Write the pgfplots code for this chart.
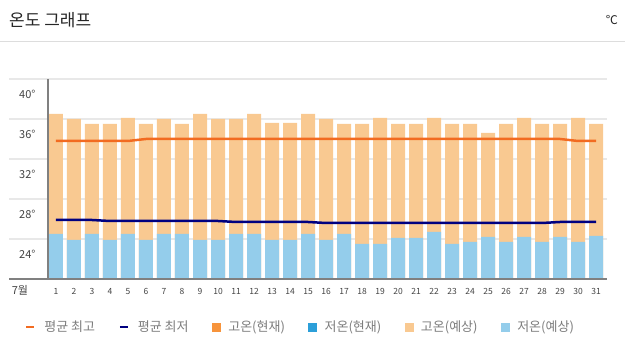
\documentclass[border=0pt]{standalone}
\usepackage{fontspec}
\setmainfont{Noto Sans CJK KR}
\usepackage{pgfplots}
\pgfplotsset{compat=1.18}
\usepackage{pgfplotstable}
\definecolor{orangeline}{HTML}{F26B21}
\definecolor{navyline}{HTML}{000080}
\definecolor{lightorange}{HTML}{F9C991}
\definecolor{lightblue}{HTML}{94CDEB}
\definecolor{curorange}{HTML}{F7943C}
\definecolor{curblue}{HTML}{2C9FD9}
\definecolor{gridcol}{HTML}{E8E8E8}
\definecolor{axiscol}{HTML}{808080}
\definecolor{sepcol}{HTML}{DDDDDD}
\definecolor{labcol}{HTML}{444444}
\definecolor{legcol}{HTML}{666666}

\pgfplotstableread{
day high low avghigh avglow
1 36.5 24.5 33.8 25.9
2 36.0 23.9 33.8 25.9
3 35.5 24.5 33.8 25.9
4 35.5 23.9 33.8 25.8
5 36.1 24.5 33.8 25.8
6 35.5 23.9 34.0 25.8
7 36.0 24.5 34.0 25.8
8 35.5 24.5 34.0 25.8
9 36.5 23.9 34.0 25.8
10 36.0 23.9 34.0 25.8
11 36.0 24.5 34.0 25.7
12 36.5 24.5 34.0 25.7
13 35.6 23.9 34.0 25.7
14 35.6 23.9 34.0 25.7
15 36.5 24.5 34.0 25.7
16 36.0 23.9 34.0 25.6
17 35.5 24.5 34.0 25.6
18 35.5 23.5 34.0 25.6
19 36.1 23.5 34.0 25.6
20 35.5 24.1 34.0 25.6
21 35.5 24.1 34.0 25.6
22 36.1 24.7 34.0 25.6
23 35.5 23.5 34.0 25.6
24 35.5 23.7 34.0 25.6
25 34.6 24.2 34.0 25.6
26 35.5 23.7 34.0 25.6
27 36.1 24.2 34.0 25.6
28 35.5 23.7 34.0 25.6
29 35.5 24.2 34.0 25.7
30 36.1 23.7 33.8 25.7
31 35.5 24.3 33.8 25.7
}\data

\begin{document}
\begin{tikzpicture}
\useasboundingbox[fill=white] (0,0) rectangle (625pt,352pt);
\node[anchor=west, inner sep=0pt, font=\fontsize{17}{20}\selectfont, text=black!85] at (9pt,332pt) {온도 그래프};
\node[anchor=east, inner sep=0pt, font=\fontsize{12}{14}\selectfont, text=black!85] at (618pt,332pt) {℃};
\draw[sepcol, line width=1pt] (0pt,310pt) -- (625pt,310pt);
\node[inner sep=0pt, font=\fontsize{11}{13}\selectfont, text=labcol] at (20pt,62pt) {7월};
\begin{axis}[
  at={(48pt,73pt)}, anchor=south west,
  scale only axis, width=559pt, height=200pt,
  xmin=0.556, xmax=31.61, ymin=20, ymax=40,
  axis line style={draw=none},
  ytick={24,28,32,36,40}, yticklabels={24°,28°,32°,36°,40°},
  xtick={1,...,31},
  /pgf/number format/assume math mode=true,
  major tick length=0pt,
  yticklabel style={font=\fontsize{11}{13}\selectfont, text=labcol, yshift=-15pt, xshift=-9pt},
  xticklabel style={font=\fontsize{8.5}{10}\selectfont, text=labcol, yshift=-6pt},
  clip mode=individual,
  legend columns=6,
  legend cell align=left,
  legend style={at={(0.4517,-0.24)}, anchor=center, draw=none, fill=none,
    font=\fontsize{13}{15}\selectfont, text=legcol!85, inner sep=0pt,
    /tikz/every even column/.append style={column sep=21.5pt}},
]
\draw[gridcol, line width=1.2pt] (axis cs:-1.61,40) -- (axis cs:31.61,40);
\draw[gridcol, line width=1.2pt] (axis cs:-1.61,36) -- (axis cs:31.61,36);
\draw[gridcol, line width=1.2pt] (axis cs:-1.61,32) -- (axis cs:31.61,32);
\draw[gridcol, line width=1.2pt] (axis cs:-1.61,28) -- (axis cs:31.61,28);
\draw[gridcol, line width=1.2pt] (axis cs:-1.61,24) -- (axis cs:31.61,24);

\addplot[ybar, bar width=14pt, bar shift=0pt, fill=lightorange, draw=none, forget plot] table[x=day, y=high] {\data};
\addplot[ybar, bar width=14pt, bar shift=0pt, fill=lightblue, draw=none, forget plot] table[x=day, y=low] {\data};
\addplot[orangeline, line width=2.5pt, mark=none, forget plot] table[x=day, y=avghigh] {\data};
\addplot[navyline, line width=2.5pt, mark=none, forget plot] table[x=day, y=avglow] {\data};

\draw[axiscol, line width=2pt] (axis cs:-1.61,20) -- (axis cs:31.61,20);
\draw[axiscol, line width=2pt] (axis cs:0.556,20) -- (axis cs:0.556,40);

\addlegendimage{legend image code/.code={\path[draw=none, fill=none] (0pt,-4pt) rectangle (16pt,4pt); \draw[orangeline, line width=2.5pt] (0pt,0pt) -- (8pt,0pt);}}
\addlegendentry{평균 최고}
\addlegendimage{legend image code/.code={\path[draw=none, fill=none] (0pt,-4pt) rectangle (16pt,4pt); \draw[navyline, line width=2.5pt] (0pt,0pt) -- (8pt,0pt);}}
\addlegendentry{평균 최저}
\addlegendimage{legend image code/.code={\path[draw=none, fill=none] (0pt,-4pt) rectangle (14pt,4pt); \fill[curorange] (0pt,-4pt) rectangle (8pt,4pt);}}
\addlegendentry{고온(현재)}
\addlegendimage{legend image code/.code={\path[draw=none, fill=none] (0pt,-4pt) rectangle (14pt,4pt); \fill[curblue] (0pt,-4pt) rectangle (8pt,4pt);}}
\addlegendentry{저온(현재)}
\addlegendimage{legend image code/.code={\path[draw=none, fill=none] (0pt,-4pt) rectangle (14pt,4pt); \fill[lightorange] (0pt,-4pt) rectangle (8pt,4pt);}}
\addlegendentry{고온(예상)}
\addlegendimage{legend image code/.code={\path[draw=none, fill=none] (0pt,-4pt) rectangle (14pt,4pt); \fill[lightblue] (0pt,-4pt) rectangle (8pt,4pt);}}
\addlegendentry{저온(예상)}
\end{axis}
\end{tikzpicture}
\end{document}
